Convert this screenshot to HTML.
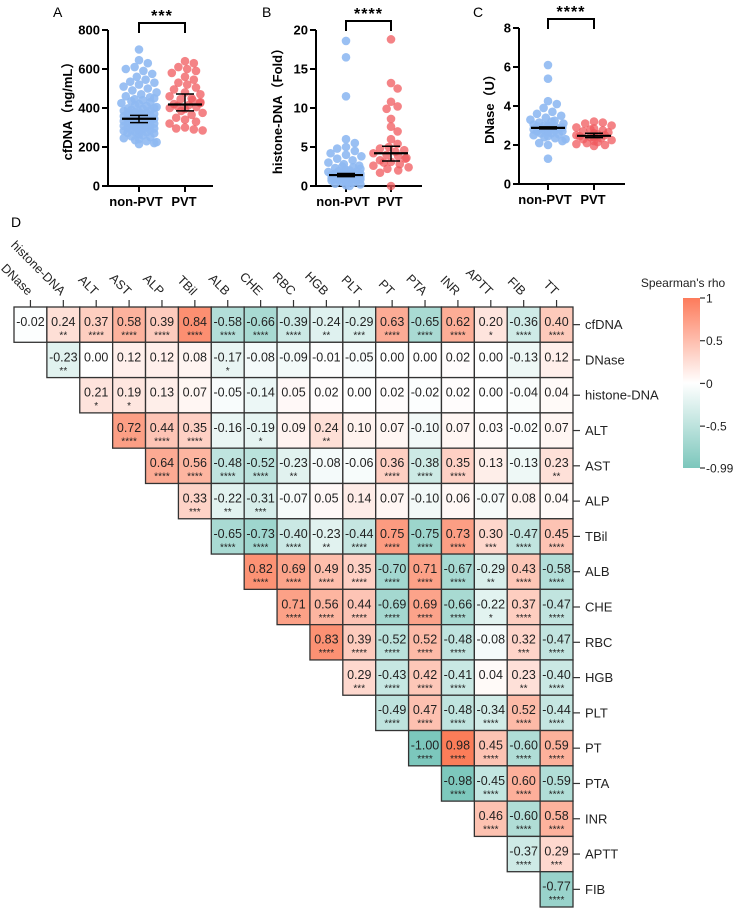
<!DOCTYPE html>
<html><head><meta charset="utf-8"><style>
html,body{margin:0;padding:0;background:#fff;}
svg{display:block;font-family:"Liberation Sans",Arial,"Noto Sans CJK SC",sans-serif;}
</style></head><body>
<svg id="fig" width="738" height="914" viewBox="0 0 738 914" xmlns="http://www.w3.org/2000/svg"></svg>
<script>
// ---------- Panel data ----------
const groupLabels = ["non-PVT","PVT"];
const cfNon = [700,645,630,610,600,590,575,560,545,535,530,520,510,500,490,480,470,460,455,450,445,440,435,430,425,420,415,410,405,400,398,395,390,388,385,380,378,375,372,370,368,365,362,360,358,355,352,350,348,345,343,340,338,335,333,330,328,325,322,320,318,315,312,310,308,305,302,300,298,295,292,290,287,285,282,280,277,275,272,270,265,260,255,250,245,240,235,230,225,220,215];
const cfPvt = [640,630,610,600,590,580,560,545,530,520,505,495,480,470,460,450,445,440,430,425,420,415,410,405,400,395,385,375,365,350,340,330,320,300,295,290,285];
const cfStats = [[345,325,362],[418,385,472]];
const hiNon = [18.6,16.5,11.5,6.0,5.5,5.0,4.8,4.5,4.2,4.0,3.8,3.5,3.3,3.0,2.8,2.6,2.5,2.4,2.3,2.2,2.1,2.0,1.9,1.85,1.8,1.75,1.7,1.65,1.6,1.55,1.5,1.45,1.4,1.4,1.35,1.3,1.3,1.25,1.2,1.2,1.15,1.1,1.1,1.05,1.0,1.0,0.95,0.9,0.9,0.85,0.8,0.8,0.75,0.7,0.7,0.6,0.5,0.4,0.3,0.2,0.1,0.0];
const hiPvt = [18.8,13.2,12.5,10.8,10.2,9.9,8.6,7.6,7.0,6.0,5.4,5.0,4.8,4.6,4.4,4.2,4.0,3.8,3.6,3.5,3.3,3.1,3.0,2.8,2.6,2.4,2.2,2.0,1.7,0.0];
const hiStats = [[1.4,1.2,1.6],[4.2,3.2,5.1]];
const dnNon = [6.1,5.4,4.25,4.1,3.9,3.7,3.6,3.5,3.4,3.3,3.25,3.2,3.15,3.1,3.05,3.0,3.0,2.95,2.95,2.9,2.9,2.9,2.85,2.85,2.8,2.8,2.75,2.75,2.7,2.7,2.65,2.6,2.6,2.55,2.5,2.45,2.4,2.35,2.3,2.2,2.1,2.0,1.3];
const dnPvt = [3.2,3.15,3.1,3.0,2.9,2.85,2.8,2.75,2.7,2.65,2.6,2.55,2.5,2.5,2.45,2.4,2.4,2.35,2.3,2.25,2.2,2.15,2.1,2.05,2.0,1.95];
const dnStats = [[2.88,2.83,2.93],[2.47,2.38,2.6]];
const cfTicks = [0,200,400,600,800];
const hiTicks = [0,5,10,15,20];
const dnTicks = [0,2,4,6,8];

// ---------- Heatmap data ----------
const rowLabels = ["cfDNA","DNase","histone-DNA","ALT","AST","ALP","TBil","ALB","CHE","RBC","HGB","PLT","PT","PTA","INR","APTT","FIB"];
const colLabels = ["DNase","histone-DNA","ALT","AST","ALP","TBil","ALB","CHE","RBC","HGB","PLT","PT","PTA","INR","APTT","FIB","TT"];
const rhoRows = [
[-0.02,0.24,0.37,0.58,0.39,0.84,-0.58,-0.66,-0.39,-0.24,-0.29,0.63,-0.65,0.62,0.20,-0.36,0.40],
[-0.23,0.00,0.12,0.12,0.08,-0.17,-0.08,-0.09,-0.01,-0.05,0.00,0.00,0.02,0.00,-0.13,0.12],
[0.21,0.19,0.13,0.07,-0.05,-0.14,0.05,0.02,0.00,0.02,-0.02,0.02,0.00,-0.04,0.04],
[0.72,0.44,0.35,-0.16,-0.19,0.09,0.24,0.10,0.07,-0.10,0.07,0.03,-0.02,0.07],
[0.64,0.56,-0.48,-0.52,-0.23,-0.08,-0.06,0.36,-0.38,0.35,0.13,-0.13,0.23],
[0.33,-0.22,-0.31,-0.07,0.05,0.14,0.07,-0.10,0.06,-0.07,0.08,0.04],
[-0.65,-0.73,-0.40,-0.23,-0.44,0.75,-0.75,0.73,0.30,-0.47,0.45],
[0.82,0.69,0.49,0.35,-0.70,0.71,-0.67,-0.29,0.43,-0.58],
[0.71,0.56,0.44,-0.69,0.69,-0.66,-0.22,0.37,-0.47],
[0.83,0.39,-0.52,0.52,-0.48,-0.08,0.32,-0.47],
[0.29,-0.43,0.42,-0.41,0.04,0.23,-0.40],
[-0.49,0.47,-0.48,-0.34,0.52,-0.44],
[-1.00,0.98,0.45,-0.60,0.59],
[-0.98,-0.45,0.60,-0.59],
[0.46,-0.60,0.58],
[-0.37,0.29],
[-0.77]];
const starRows = [
["","**","****","****","****","****","****","****","****","**","***","****","****","****","*","****","****"],
["**","","","","","*","","","","","","","","","",""],
["*","*","","","","","","","","","","","","",""],
["****","****","****","","*","","**","","","","","","",""],
["****","****","****","****","**","","","****","****","****","","","**"],
["***","**","***","","","","","","","","",""],
["****","****","****","**","****","****","****","****","***","****","****"],
["****","****","****","****","****","****","****","**","****","****"],
["****","****","****","****","****","****","*","****","****"],
["****","****","****","****","****","","***","****"],
["***","****","****","****","","**","****"],
["****","****","****","****","****","****"],
["****","****","****","****","****"],
["****","****","****","****"],
["****","****","****"],
["****","***"],
["****"]];
const cbTicks = [1,0.5,0,-0.5,-0.99];
const cbTickLabels = ["1","0.5","0","-0.5","-0.99"];

const NS="http://www.w3.org/2000/svg";
const svg=document.getElementById('fig');
function mk(tag,attrs,parent,text){const e=document.createElementNS(NS,tag);for(const k in attrs)e.setAttribute(k,attrs[k]);if(text!==undefined)e.textContent=text;(parent||svg).appendChild(e);return e;}

// ---------- Scatter panels ----------
function panel(cfg){
  const g=mk('g',{});
  
  
  const y=v=>cfg.y0-(v-cfg.min)/(cfg.max-cfg.min)*(cfg.y0-cfg.y1);
  const t=mk('text',{x:cfg.letterX,y:17,'font-size':14},g,cfg.letter);
  
  const ya=mk('line',{x1:cfg.ax,y1:cfg.y1,x2:cfg.ax,y2:cfg.y0+1,stroke:'#000','stroke-width':2},g);
  
  const xa=mk('line',{x1:cfg.ax-1,y1:cfg.y0,x2:cfg.axR,y2:cfg.y0,stroke:'#000','stroke-width':2},g);
  
  cfg.ticks.forEach(v=>{
    mk('line',{x1:cfg.ax-6,x2:cfg.ax,y1:y(v),y2:y(v),stroke:'#000','stroke-width':2},g);
    const tl=mk('text',{x:cfg.ax-8,y:y(v)+4.5,'text-anchor':'end','font-size':13,'font-weight':'bold'},g,String(v));
    
  });
  const yt=mk('text',{x:0,y:0,transform:`translate(${cfg.titleX},${(cfg.y0+cfg.y1)/2}) rotate(-90)`,'text-anchor':'middle','font-size':13,'font-weight':'bold'},g,cfg.title);
  
  const groups=[cfg.a,cfg.b];const cols=['#8fb9f2','#f05a5e'];
  groups.forEach((vals,gi)=>{
    const cx=cfg.cx[gi];
    mk('line',{x1:cx,x2:cx,y1:cfg.y0,y2:cfg.y0+6,stroke:'#000','stroke-width':2},g);
    const cl=mk('text',{x:cx+(gi===0?-3:-1),y:cfg.y0+20,'text-anchor':'middle','font-size':13,'font-weight':'bold'},g,groupLabels[gi]);
    
    const placed=[];const r=4.3;
    const sorted=vals.slice().sort((p,q)=>q-p);
    sorted.forEach(v=>{
      const py=y(v);let best=0;
      for(let k=0;k<30;k++){
        const off=(k%2?1:-1)*Math.ceil(k/2)*2.2;
        if(Math.abs(off)>cfg.maxW){best=(placed.length%2?1:-1)*cfg.maxW*((placed.length%5)/5);break;}
        if(placed.every(p=>Math.hypot(p[0]-off,p[1]-py)>=2*r*0.9)){best=off;break;}
      }
      placed.push([best,py]);
      const c=mk('circle',{cx:cx+best,cy:py,r:r,fill:cols[gi],'fill-opacity':gi?0.75:0.9},g);
      
      
    });
  });
  cfg.stats.forEach((s,gi)=>{
    const cx=cfg.cx[gi];
    const m=mk('line',{x1:cx-17,x2:cx+17,y1:y(s[0]),y2:y(s[0]),stroke:'#000','stroke-width':2.2},g);
    
    mk('line',{x1:cx,x2:cx,y1:y(s[1]),y2:y(s[2]),stroke:'#000','stroke-width':1.5},g);
    mk('line',{x1:cx-9,x2:cx+9,y1:y(s[1]),y2:y(s[1]),stroke:'#000','stroke-width':1.5},g);
    mk('line',{x1:cx-9,x2:cx+9,y1:y(s[2]),y2:y(s[2]),stroke:'#000','stroke-width':1.5},g);
  });
  const br=mk('polyline',{points:`${cfg.cx[0]},${cfg.brY+10} ${cfg.cx[0]},${cfg.brY} ${cfg.cx[1]},${cfg.brY} ${cfg.cx[1]},${cfg.brY+10}`,fill:'none',stroke:'#000','stroke-width':2},g);
  
  const st=mk('text',{x:(cfg.cx[0]+cfg.cx[1])/2,y:cfg.brY-2,'text-anchor':'middle','font-size':16,'font-weight':'bold','letter-spacing':'1'},g,cfg.sig);
  
}
panel({name:'panel-a-cfdna',letter:'A',letterX:53,ax:108,axR:213,y0:186,y1:30,min:0,max:800,ticks:cfTicks,cx:[139,185],a:cfNon,b:cfPvt,stats:cfStats,title:'cfDNA（ng/mL）',titleX:72,brY:23,sig:'***',maxW:19});
panel({name:'panel-b-histone',letter:'B',letterX:262,ax:316,axR:422,y0:186,y1:30,min:0,max:20,ticks:hiTicks,cx:[346,391],a:hiNon,b:hiPvt,stats:hiStats,title:'histone-DNA（Fold）',titleX:282,brY:21,sig:'****',maxW:18});
panel({name:'panel-c-dnase',letter:'C',letterX:473,ax:519,axR:625,y0:184,y1:28,min:0,max:8,ticks:dnTicks,cx:[548,594],a:dnNon,b:dnPvt,stats:dnStats,title:'DNase（U）',titleX:494,brY:19,sig:'****',maxW:18});

// ---------- Heatmap ----------
const hm=mk('g',{});


const dl=mk('text',{x:11,y:227,'font-size':14},hm,'D');

const X0=14,Y0=307,CW=(573-14)/17,RH=(907-307)/17;
function mix(a,b,t){return a.map((v,i)=>Math.round(v+(b[i]-v)*t));}
function colorOf(v){
  const w=[255,255,255];
  const c=v>=0?mix(w,[251,122,86],Math.min(1,v)):mix(w,[124,199,188],Math.min(1,-v/0.99));
  return `rgb(${c[0]},${c[1]},${c[2]})`;
}
colLabels.forEach((lab,j)=>{
  const cx=X0+CW*(j+0.5);
  mk('line',{x1:cx,x2:cx,y1:Y0-7,y2:Y0,stroke:'#333','stroke-width':1.2},hm);
  const t=mk('text',{x:0,y:0,transform:`translate(${cx-3},${Y0-11}) rotate(45)`,'text-anchor':'end','font-size':12.5,fill:'#222'},hm,lab);
  
});
rowLabels.forEach((lab,i)=>{
  const cy=Y0+RH*(i+0.5);
  mk('line',{x1:573,x2:580,y1:cy,y2:cy,stroke:'#333','stroke-width':1.2},hm);
  const t=mk('text',{x:585,y:cy+4.5,'font-size':13,fill:'#222'},hm,lab);
  
  rhoRows[i].forEach((v,k)=>{
    const j=i+k;const x=X0+CW*j,y=Y0+RH*i;
    const r=mk('rect',{x:x,y:y,width:CW,height:RH,fill:colorOf(v),stroke:'#333','stroke-width':1.3},hm);
    
    const tv=mk('text',{x:x+CW/2,y:y+19,'text-anchor':'middle','font-size':12.5,fill:'#222'},hm,v.toFixed(2));
    
    const s=starRows[i][k];
    if(s){const ts=mk('text',{x:x+CW/2,y:y+31.5,'text-anchor':'middle','font-size':10,fill:'#222'},hm,s);
      }
  });
});
const defs=mk('defs',{});
const lg=mk('linearGradient',{id:'cb',x1:0,y1:0,x2:0,y2:1},defs);
mk('stop',{offset:'0','stop-color':'#fd7b5b'},lg);
mk('stop',{offset:'0.5','stop-color':'#ffffff'},lg);
mk('stop',{offset:'1','stop-color':'#7cc7bc'},lg);
const CBT=298,CBB=468;
const cbY=v=>CBT+(1-v)/(1+0.99)*(CBB-CBT);
const cb=mk('rect',{x:683,y:CBT,width:17,height:CBB-CBT,fill:'url(#cb)'},hm);

const cbt=mk('text',{x:683,y:287,'text-anchor':'middle','font-size':12,fill:'#222'},hm,"Spearman's rho");

cbTicks.forEach((v,i)=>{
  const yy=cbY(v);
  mk('line',{x1:700,x2:705,y1:yy,y2:yy,stroke:'#333','stroke-width':1.2},hm);
  const t=mk('text',{x:706,y:yy+4.5,'font-size':12,fill:'#222'},hm,cbTickLabels[i]);
  
});
</script>
</body></html>
